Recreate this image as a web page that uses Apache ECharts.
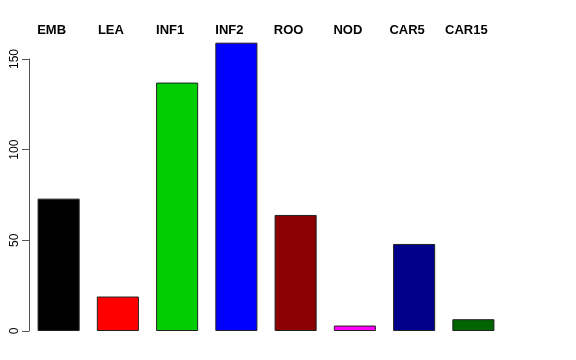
<!DOCTYPE html>
<html>
<head>
<meta charset="utf-8">
<script src="https://cdn.jsdelivr.net/npm/echarts@6.0.0/dist/echarts.min.js"></script>
<style>
html, body { margin: 0; padding: 0; background: #fff; }
#main { width: 576px; height: 360px; }
</style>
</head>
<body>
<div id="main"></div>
<script>
const categories = ['EMB', 'LEA', 'INF1', 'INF2', 'ROO', 'NOD', 'CAR5', 'CAR15'];
const values = [73, 19, 137, 159, 64, 3, 48, 6.5];
const colors = ['#000000', '#ff0000', '#00cd00', '#0000ff', '#8b0000', '#ff00ff', '#00008b', '#006400'];
const yTicks = [0, 50, 100, 150];

echarts.init(document.getElementById('main')).setOption({
	animation: false,
	grid: { left: 29, right: 73, top: 59, bottom: 29 },
	xAxis: [{
		type: 'category',
		data: categories,
		show: false,
	}, {
		type: 'category',
		data: categories,
		position: 'top',
		axisLine: { show: false },
		axisTick: { show: false },
		axisLabel: {
			margin: 22,
			padding: [0, 14, 0, 0],
			color: '#000',
			fontFamily: 'Liberation Sans',
			fontWeight: 'bold',
			fontSize: 13,
		},
	}],
	yAxis: {
		type: 'value',
		min: 0,
		max: 150,
		interval: 50,
		splitLine: { show: false },
		axisLine: { show: true, lineStyle: { color: '#555', width: 1 } },
		axisTick: { show: true, length: 7, lineStyle: { color: '#555' } },
		axisLabel: {
			rotate: 90,
			margin: 8,
			color: '#000',
			fontFamily: 'Liberation Sans',
			fontSize: 12,
			formatter: v => yTicks.includes(v) ? String(v) : '',
		},
	},
	series: [{
		type: 'bar',
		clip: false,
		barCategoryGap: '29%',
		data: values.map((v, i) => ({
			value: v,
			itemStyle: { color: colors[i] },
		})),
		itemStyle: { borderColor: '#222', borderWidth: 1 },
	}],
});
</script>
</body>
</html>
